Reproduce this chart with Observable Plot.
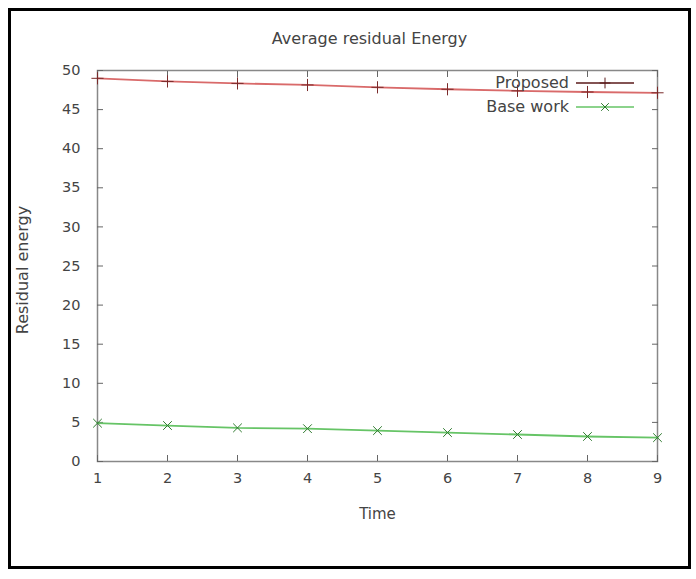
<!DOCTYPE html>
<html>
<head>
<meta charset="utf-8">
<script src="https://cdn.jsdelivr.net/npm/d3@7"></script>
<script src="https://cdn.jsdelivr.net/npm/@observablehq/plot@0.6"></script>
<style>
  html, body { margin: 0; padding: 0; background: #fff; }
  #wrap { position: relative; width: 696px; height: 579px; font-family: "DejaVu Sans", sans-serif; color: #444; }
  #border { position: absolute; left: 8px; top: 8px; width: 677px; height: 555px; border: 3px solid #000; pointer-events: none; }
  #legend { position: absolute; font-size: 16px; color: #444; }
  .lg { position: absolute; right: 0; white-space: nowrap; display: flex; align-items: center; }
  .lg span { margin-right: 7px; }
</style>
</head>
<body>
<div id="wrap">
  <div id="chart"></div>
  <div id="border"></div>
</div>
<script>
const times = [1, 2, 3, 4, 5, 6, 7, 8, 9];
const proposed = [49.0, 48.6, 48.35, 48.15, 47.85, 47.6, 47.4, 47.25, 47.15];
const baseWork = [4.9, 4.6, 4.3, 4.2, 3.95, 3.7, 3.45, 3.2, 3.05];
const yTicks = [0, 5, 10, 15, 20, 25, 30, 35, 40, 45, 50];
const xTicks = times;
const seriesNames = ["Proposed", "Base work"];
const titleText = "Average residual Energy";
const xLabel = "Time";
const yLabel = "Residual energy";

const pData = times.map((t, i) => ({time: t, value: proposed[i]}));
const bData = times.map((t, i) => ({time: t, value: baseWork[i]}));

const textColor = "#444";
const plot = Plot.plot({
  width: 696,
  height: 579,
  marginLeft: 97,
  marginRight: 39,
  marginTop: 70,
  marginBottom: 118,
  style: {fontFamily: "DejaVu Sans, sans-serif", fontSize: "14.5px", color: textColor, background: "#fff"},
  x: {domain: [1, 9]},
  y: {domain: [0, 50]},
  marks: [
    Plot.frame({stroke: "#888", strokeWidth: 1.5}),
    Plot.axisX(xTicks, {anchor: "bottom", tickSize: -6, tickPadding: 17, stroke: "#666", label: null, fill: textColor}),
    Plot.axisX(xTicks, {anchor: "top", tickSize: -6, tickFormat: () => "", stroke: "#666", label: null}),
    Plot.axisY(yTicks, {anchor: "left", tickSize: -6, tickPadding: 23, stroke: "#666", label: null, fill: textColor}),
    Plot.axisY(yTicks, {anchor: "right", tickSize: -6, tickFormat: () => "", stroke: "#666", label: null}),
    Plot.line(pData, {x: "time", y: "value", stroke: "#d96a6a", strokeWidth: 1.8}),
    Plot.dot(pData, {x: "time", y: "value", symbol: "plus", r: 4, stroke: "#7a2a2a", strokeWidth: 1}),
    Plot.line(bData, {x: "time", y: "value", stroke: "#66c466", strokeWidth: 1.8}),
    Plot.dot(bData, {x: "time", y: "value", symbol: "times", r: 4, stroke: "#2f7a2f", strokeWidth: 1}),
    Plot.text([titleText], {frameAnchor: "top", dx: -8, dy: -38, fontSize: 16, fill: textColor}),
    Plot.text([xLabel], {frameAnchor: "bottom", dy: 57, fontSize: 15, fill: textColor}),
    Plot.text([yLabel], {frameAnchor: "left", dx: -75, dy: 4, rotate: -90, textAnchor: "middle", fontSize: 16, fill: textColor})
  ]
});
document.getElementById("chart").appendChild(plot);

// legend
const legend = document.createElement("div");
legend.id = "legend";
legend.style.left = "0px";
legend.style.top = "0px";
legend.style.width = "634px";
const items = [
  {name: seriesNames[0], color: "#5a1a1a", mark: "plus", top: 73},
  {name: seriesNames[1], color: "#66c466", mark: "times", top: 97}
];
items.forEach(it => {
  const row = document.createElement("div");
  row.className = "lg";
  row.style.top = it.top + "px";
  const s = document.createElement("span");
  s.textContent = it.name;
  row.appendChild(s);
  const svg = d3.create("svg").attr("width", 58).attr("height", 12);
  svg.append("line").attr("x1", 0).attr("x2", 58).attr("y1", 6).attr("y2", 6).attr("stroke", it.color).attr("stroke-width", 1.5);
  const sym = d3.symbol(it.mark === "plus" ? d3.symbolPlus : d3.symbolTimes, 40)();
  svg.append("path").attr("d", sym).attr("transform", "translate(29,6)").attr("fill", "none").attr("stroke", it.mark === "plus" ? "#5a1a1a" : "#2f7a2f");
  row.appendChild(svg.node());
  legend.appendChild(row);
});
document.getElementById("wrap").appendChild(legend);
</script>
</body>
</html>
